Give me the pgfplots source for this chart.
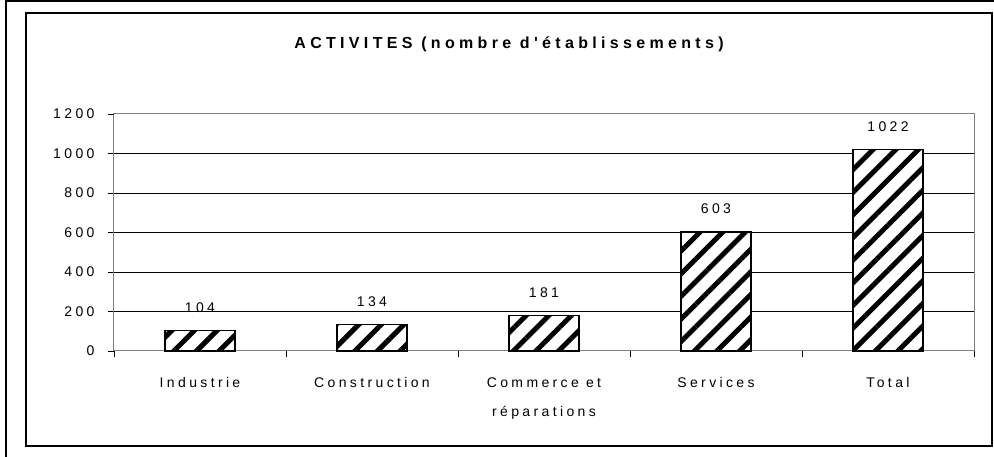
\documentclass[border=0pt]{standalone}
\usepackage{fontspec}
\setmainfont{Liberation Sans}[LetterSpace=24]
\newfontfamily\titlefont{Liberation Sans Bold}[LetterSpace=27]
\usepackage{pgfplots}
\pgfplotsset{compat=1.18}
\usetikzlibrary{patterns.meta}
\definecolor{frgray}{gray}{0.5}
\begin{document}
\begin{tikzpicture}[x=1pt,y=1pt]
\useasboundingbox (0,0) rectangle (994,457);
\draw[line width=2.5pt] (6,0) -- (6,455.75) -- (994,455.75);
\draw[line width=1.2pt] (26,11) rectangle (992,444);
\node[font=\titlefont\fontsize{16}{18}\selectfont] at (509,413) {ACTIVITES (nombre d'établissements)};
\begin{axis}[
  at={(114pt,106pt)}, anchor=south west,
  scale only axis, width=860pt, height=237pt,
  xmin=-0.5, xmax=4.5, ymin=0, ymax=1200,
  axis line style={frgray, line width=1pt},
  ybar, bar width=70pt,
  tick pos=left,
  xtick={-0.5,0.5,...,4.5},
  xticklabels={},
  extra x ticks={0,1,2,3,4},
  extra x tick labels={Industrie,Construction,{Commerce et\\réparations},Services,Total},
  extra x tick style={major tick length=0pt},
  ytick={200,400,...,1000},
  extra y ticks={0,1200},
  extra y tick style={grid=none},
  ymajorgrids, major grid style={black, line width=0.6pt},
  tick style={black, line width=0.8pt},
  tick align=outside, major tick length=6pt,
  /pgf/number format/1000 sep={},
  /pgf/number format/assume math mode=true,
  ticklabel style={font=\fontsize{14}{29}\selectfont},
  xticklabel style={align=center, anchor=north, yshift=-23pt},
  yticklabel style={xshift=-10pt},
  nodes near coords,
  nodes near coords style={font=\fontsize{14}{16}\selectfont, anchor=south, yshift=14pt, black},
  clip=false,
]
\addplot[fill=white, draw=black, line width=1.2pt, postaction={pattern={Lines[angle=45,distance=16pt,line width=5pt]}}] coordinates {(0,104) (1,134) (2,181) (3,603) (4,1022)};
\end{axis}
\end{tikzpicture}
\end{document}
